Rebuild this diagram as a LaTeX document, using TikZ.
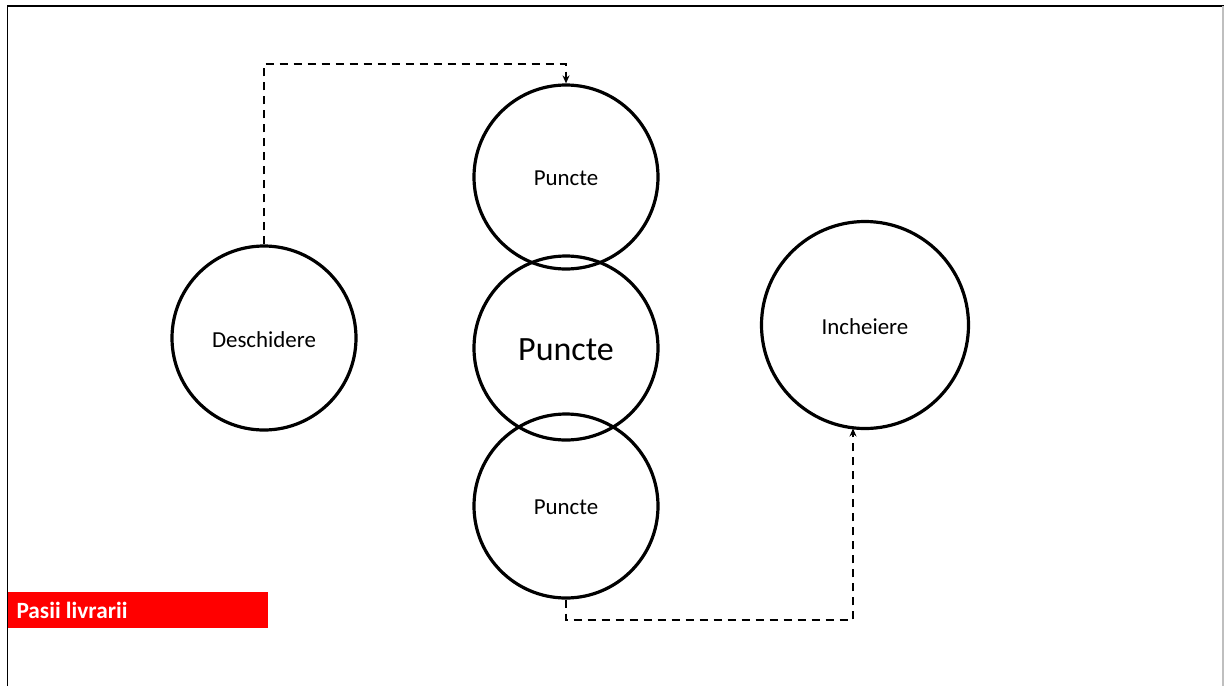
\documentclass[tikz,border=0pt]{standalone}
\usepackage{fontspec}
\setmainfont{Carlito}
\usetikzlibrary{arrows.meta}
\begin{document}
\begin{tikzpicture}[x=1pt,y=-1pt,
  stepcircle/.style={circle,draw=black,line width=3.2pt,inner sep=0pt,fill=none},
  flow/.style={draw=black,line width=2.3pt,dash pattern=on 8pt off 6pt,-{Stealth[length=8pt,width=7pt]}},
  lbl/.style={font=\fontsize{22.9}{26}\selectfont},
  biglbl/.style={font=\fontsize{34}{40}\selectfont}]
  \useasboundingbox (0,0) rectangle (1224,686);
  \fill[white] (0,0) rectangle (1224,686);
  % frame
  \draw[black,line width=1.6pt] (7.5,686) -- (7.5,6) -- (1224,6);
  \draw[gray!50,line width=1.2pt] (1223,6) -- (1223,686);

  % circles
  \node[stepcircle,minimum size=184pt] (open) at (264,338) {};
  \node[stepcircle,minimum size=184pt] (p1) at (566,177) {};
  \node[stepcircle,minimum size=184pt] (p2) at (566,348) {};
  \node[stepcircle,minimum size=184pt] (p3) at (566,506) {};
  \node[stepcircle,minimum size=207pt] (close) at (865,325) {};

  % labels
  \node[lbl] at (264,339.5) {Deschidere};
  \node[lbl] at (566,178.5) {Puncte};
  \node[biglbl] at (566,349.5) {Puncte};
  \node[lbl] at (566,507.5) {Puncte};
  \node[lbl] at (865,326.5) {Incheiere};

  % connectors
  \coordinate (c1) at (264,64);
  \coordinate (c2) at (566,64);
  \draw[flow] (open.north) -- (c1) -- (c2) -- (p1.north);
  \coordinate (c3) at (566,620);
  \coordinate (c4) at (853,620);
  \coordinate (c5) at (853,428.5);
  \draw[flow] (p3.south) -- (c3) -- (c4) -- (c5);

  % caption bar
  \node[fill=red,minimum width=260pt,minimum height=36pt,inner sep=0pt,anchor=north west] (bar) at (8,592) {};
  \node[font=\fontsize{23.3}{26}\selectfont\bfseries,text=white,anchor=west] at (13,610.5) {Pasii livrarii};
\end{tikzpicture}
\end{document}
